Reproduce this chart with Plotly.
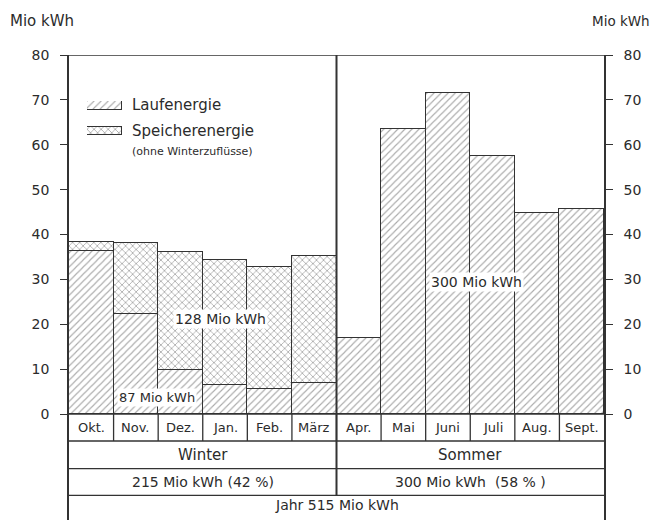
import plotly.graph_objects as go

# ---- data -------------------------------------------------------------
months = ["Okt.", "Nov.", "Dez.", "Jan.", "Feb.", "März",
          "Apr.", "Mai", "Juni", "Juli", "Aug.", "Sept."]
laufenergie = [36.4, 22.2, 9.8, 6.5, 5.6, 6.8,
               17.0, 63.4, 71.6, 57.6, 44.9, 45.7]
speicherenergie = [2.0, 15.8, 26.4, 27.8, 27.2, 28.3,
                   None, None, None, None, None, None]
y_ticks = [0, 10, 20, 30, 40, 50, 60, 70, 80]
unit_label = "Mio kWh"
seasons = ["Winter", "Sommer"]
season_totals = ["215 Mio kWh (42 %)", "300 Mio kWh  (58 % )"]
year_total = "Jahr 515 Mio kWh"
label_lauf_winter = "87 Mio kWh"
label_speicher_winter = "128 Mio kWh"
label_summer = "300 Mio kWh"
legend_lauf = "Laufenergie"
legend_speicher = "Speicherenergie"
legend_speicher_note = "(ohne Winterzuflüsse)"

# ---- style ------------------------------------------------------------
FONT = "DejaVu Sans"
INK = "#2b2b2b"
LINE = "#333333"
HATCH = "#555555"
W, H = 654, 520
ML, MR, MT, MB = 69, 50, 55, 0
PW, PH = W - ML - MR, H - MT - MB
Y_MIN = -23.62          # extra room below 0 for the table
ROW1, ROW2, ROW3 = -6.02, -12.19, -18.12
X_LEFT, X_RIGHT = -0.5, len(months) - 0.5
xpos = list(range(len(months)))


def px_x(px):
    return (px - ML) / PW


def px_y(py):
    return (H - MB - py) / PH


pat_lauf = dict(shape="/", fgcolor=HATCH, bgcolor="white", size=5, solidity=0.22)
pat_speicher = dict(shape="x", fgcolor=HATCH, bgcolor="white", size=5, solidity=0.3)

fig = go.Figure()
fig.add_trace(go.Bar(
    x=xpos, y=laufenergie, name=legend_lauf, showlegend=False,
    marker=dict(color="white", line=dict(color=LINE, width=1.5), pattern=pat_lauf),
    hoverinfo="skip"))
fig.add_trace(go.Bar(
    x=xpos, y=speicherenergie, name=legend_speicher, showlegend=False,
    marker=dict(color="white", line=dict(color=LINE, width=1.5), pattern=pat_speicher),
    hoverinfo="skip"))
# invisible trace so that the right-hand axis is drawn
fig.add_trace(go.Bar(x=xpos, y=laufenergie, yaxis="y2", opacity=0,
                     showlegend=False, hoverinfo="skip", marker_color="white"))

# legend swatches (on a small auxiliary axis pair)
fig.add_trace(go.Bar(x=[0.5], y=[9], base=[25], width=[1], xaxis="x2", yaxis="y3",
                     showlegend=False, hoverinfo="skip",
                     marker=dict(color="white", line=dict(color=LINE, width=1.2),
                                 pattern=pat_lauf)))
fig.add_trace(go.Bar(x=[0.5], y=[8], base=[0], width=[1], xaxis="x2", yaxis="y3",
                     showlegend=False, hoverinfo="skip",
                     marker=dict(color="white", line=dict(color=LINE, width=1.2),
                                 pattern=pat_speicher)))

axis_common = dict(range=[Y_MIN, 80], tickvals=y_ticks, ticks="outside",
                   ticklen=7, tickwidth=1.2, tickcolor=LINE, showline=True,
                   linecolor=LINE, linewidth=1.5, showgrid=False,
                   zeroline=False, ticklabelstandoff=8, automargin=False,
                   tickfont=dict(family=FONT, size=14, color=INK))

shapes = []


def hline(y, x0=X_LEFT, x1=X_RIGHT, w=1.3):
    shapes.append(dict(type="line", xref="x", yref="y", x0=x0, x1=x1,
                       y0=y, y1=y, line=dict(color=LINE, width=w)))


def vline(x, y0, y1, w=1.3):
    shapes.append(dict(type="line", xref="x", yref="y", x0=x, x1=x,
                       y0=y0, y1=y1, line=dict(color=LINE, width=w)))


hline(80, w=1.5)
hline(0, w=1.5)
hline(ROW1)
hline(ROW2)
hline(ROW3)
for i in range(len(months) - 1):
    vline(i + 0.5, 0, ROW1)
vline(5.5, 80, ROW3, w=2)

annotations = []


def txt(x, y, s, size=14, bg=None, xref="x", yref="y", xanchor="center"):
    d = dict(x=x, y=y, xref=xref, yref=yref, text=s, showarrow=False,
             xanchor=xanchor, yanchor="middle",
             font=dict(family=FONT, size=size, color=INK))
    if bg:
        d["bgcolor"] = bg
        d["borderpad"] = 1
    annotations.append(d)


for i, m in enumerate(months):
    txt(i, -3.05, m, size=13)
txt(2.5, -9.1, seasons[0], size=15)
txt(8.5, -9.1, seasons[1], size=15)
txt(2.5, -15.1, season_totals[0], size=14)
txt(8.5, -15.1, season_totals[1], size=14)
txt(5.5, -20.3, year_total, size=14)

txt(1.47, 3.6, label_lauf_winter, size=13, bg="white")
txt(2.89, 21.2, label_speicher_winter, size=14, bg="white")
txt(8.63, 29.4, label_summer, size=14, bg="white")

# legend texts
txt(px_x(130), px_y(105), legend_lauf, size=15, xref="paper", yref="paper", xanchor="left")
txt(px_x(130), px_y(131), legend_speicher, size=15, xref="paper", yref="paper", xanchor="left")
txt(px_x(130), px_y(151), legend_speicher_note, size=11, xref="paper", yref="paper", xanchor="left")

# axis unit titles
txt(px_x(8), px_y(21), unit_label, size=15, xref="paper", yref="paper", xanchor="left")
txt(px_x(652), px_y(21), unit_label, size=13.5, xref="paper", yref="paper", xanchor="right")

fig.update_layout(
    width=W, height=H,
    margin=dict(l=ML, r=MR, t=MT, b=MB),
    paper_bgcolor="white", plot_bgcolor="white",
    barmode="stack", bargap=0,
    showlegend=False,
    xaxis=dict(range=[X_LEFT, X_RIGHT], showticklabels=False, ticks="",
               showgrid=False, zeroline=False, showline=False,
               fixedrange=True, automargin=False),
    yaxis=dict(side="left", **axis_common),
    yaxis2=dict(side="right", overlaying="y", **axis_common),
    xaxis2=dict(domain=[px_x(87), px_x(122)], range=[0, 1], anchor="y3",
                visible=False, fixedrange=True),
    yaxis3=dict(domain=[px_y(135), px_y(101)], range=[0, 34], anchor="x2",
                visible=False, fixedrange=True),
    shapes=shapes,
    annotations=annotations,
)
fig.write_html(
    "out.html",
    config={"displayModeBar": False},
    post_script="document.body.style.margin='0';document.body.style.overflow='hidden';",
)
